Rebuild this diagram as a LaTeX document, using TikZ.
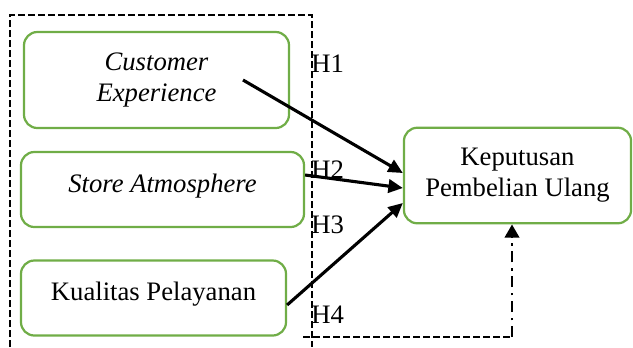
\documentclass[tikz,border=0pt]{standalone}
\usepackage{fontspec}
\setmainfont{Liberation Serif}
\usetikzlibrary{arrows.meta,calc}
\definecolor{boxgreen}{HTML}{70AD47}
\tikzset{
  varbox/.style={draw=boxgreen, line width=1pt, rounded corners=6pt, align=center, inner sep=0pt},
  hyp/.style={line width=1.4pt, -{Triangle[length=6.5pt,width=6pt]}},
  frame/.style={line width=0.6pt, dash pattern=on 3pt off 1.5pt},
  dashdot/.style={line width=1.3pt, dash pattern=on 5pt off 2.5pt on 1.2pt off 2.5pt, -{Triangle[length=6pt,width=6.5pt]}},
  hlabel/.style={anchor=base west, inner sep=0pt},
}
\begin{document}
\begin{tikzpicture}[x=0.45pt,y=-0.45pt,font=\fontsize{12}{14}\selectfont]
\useasboundingbox (0,0) rectangle (633,347);
% variables
\node[varbox, minimum width=119.25pt, minimum height=43.2pt] (ce) at (156.5,80) {\textit{Customer}\\\textit{Experience}};
\node[varbox, minimum width=127.35pt, minimum height=33.75pt, text depth=6pt] (sa) at (162.5,189.5) {\textit{Store Atmosphere}};
\node[varbox, minimum width=119.25pt, minimum height=33.75pt, text depth=6pt] (kp) at (153.5,298) {Kualitas Pelayanan};
\node[varbox, minimum width=102.2pt, minimum height=43pt] (kpu) at (517.5,175.5) {Keputusan\\Pembelian Ulang};
% hypotheses
\draw[hyp] ($(ce.center)+(86.5,0)$) -- ($(kpu.west)+(0,-2.5)$);
\draw[hyp] ($(sa.east)+(0,-14.5)$) -- ($(kpu.west)+(0,12.5)$);
\draw[hyp] ($(kp.east)+(0,7)$) -- ($(kpu.west)+(0,27.5)$);
% simultaneous frame
\draw[frame] (10,347) -- (10,15) -- (312,15) -- (312,347);
\coordinate (fb) at (303,337);
\coordinate (turn) at (512,337);
\draw[frame] (fb) -- (turn);
\draw[dashdot] (turn) -- (turn |- kpu.south);
\node[hlabel] (h1) at (311,72) {H1};
\node[hlabel] (h2) at (311,178) {H2};
\node[hlabel] (h3) at (311,233) {H3};
\node[hlabel] (h4) at (311,323) {H4};
\end{tikzpicture}
\end{document}
